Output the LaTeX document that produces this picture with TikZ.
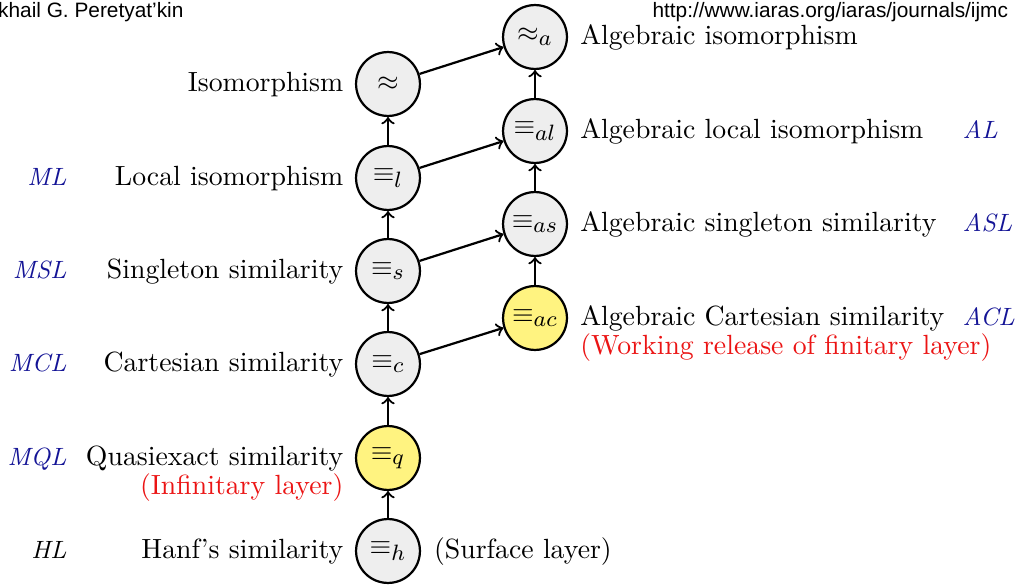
\documentclass[tikz,border=0pt]{standalone}
\usetikzlibrary{positioning}

\font\headfont="Liberation Sans" at 7.5pt
\DeclareMathSizes{10}{10}{8.5}{6}
\definecolor{layblue}{RGB}{20,20,150}
\definecolor{notered}{RGB}{235,20,20}
\definecolor{relgray}{RGB}{238,238,238}
\definecolor{relyellow}{RGB}{255,243,128}

\begin{document}
\begin{tikzpicture}[x=0.36pt, y=-0.36pt,
  every node/.style = {inner sep=0pt},
  rel/.style = {circle, draw, thick, fill=relgray,
    minimum size=23pt},
  relfin/.style = {rel, fill=relyellow},
  rname/.style = {text height=1.6ex, text depth=.3ex},
  lname/.style = {font=\small\itshape, text height=1.6ex, text depth=.3ex},
  layer/.style = {text=notered},
  arr/.style = {->, thick}]
  \useasboundingbox (0,0) rectangle (1019,587);
  \coordinate (lcol) at (67,0);
  \coordinate (rcol) at (962,0);
  % header
  \node [anchor=base east, font=\headfont] (auth) at (184,18) {khail G. Peretyat’kin};
  \node [anchor=base west, font=\headfont] (url) at (652,18) {http://www.iaras.org/iaras/journals/ijmc};
  % model relations
  \node [rel] (h) at (388,551) {$\equiv_h$};
  \node [relfin] (q) at (388,458) {$\equiv_q$};
  \node [rel] (c) at (388,364) {$\equiv_c$};
  \node [rel] (s) at (388,271) {$\equiv_s$};
  \node [rel] (l) at (388,178) {$\equiv_l$};
  \node [rel] (i) at (388,84) {$\approx$};
  % algebraic relations
  \node [relfin] (ac) at (535,318) {$\equiv_{ac}$};
  \node [rel] (as) at (535,224) {$\equiv_{as}$};
  \node [rel] (al) at (535,131) {$\equiv_{al}$};
  \node [rel] (a) at (535,37) {$\approx_a$};
  % names
  \node [rname, left=4pt of h] {Hanf’s similarity};
  \node [rname, right=4.5pt of h] {(Surface layer)};
  \node [rname, left=4pt of q] (qn) {Quasiexact similarity};
  \node [layer, anchor=north east] at ([yshift=-1.3pt]qn.south east) {(Infinitary layer)};
  \node [rname, left=4pt of c] {Cartesian similarity};
  \node [rname, left=4pt of s] {Singleton similarity};
  \node [rname, left=4pt of l] {Local isomorphism};
  \node [rname, left=4pt of i] {Isomorphism};
  \node [rname, right=4.2pt of ac] (acn) {Algebraic Cartesian similarity};
  \node [layer, anchor=north west] at ([yshift=-1.3pt]acn.south west) {(Working release of finitary layer)};
  \node [rname, right=4.2pt of as] {Algebraic singleton similarity};
  \node [rname, right=4.2pt of al] {Algebraic local isomorphism};
  \node [rname, right=4.2pt of a] {Algebraic isomorphism};
  % logics
  \node [lname, anchor=east] at (h -| lcol) {HL};
  \node [lname, text=layblue, anchor=east] at (q -| lcol) {MQL};
  \node [lname, text=layblue, anchor=east] at (c -| lcol) {MCL};
  \node [lname, text=layblue, anchor=east] at (s -| lcol) {MSL};
  \node [lname, text=layblue, anchor=east] at (l -| lcol) {ML};
  \node [lname, text=layblue, anchor=west] at (ac -| rcol) {ACL};
  \node [lname, text=layblue, anchor=west] at (as -| rcol) {ASL};
  \node [lname, text=layblue, anchor=west] at (al -| rcol) {AL};
  % arrows
  \draw [arr] (h) -- (q);
  \draw [arr] (q) -- (c);
  \draw [arr] (c) -- (s);
  \draw [arr] (s) -- (l);
  \draw [arr] (l) -- (i);
  \draw [arr] (ac) -- (as);
  \draw [arr] (as) -- (al);
  \draw [arr] (al) -- (a);
  \draw [arr] (c) -- (ac);
  \draw [arr] (s) -- (as);
  \draw [arr] (l) -- (al);
  \draw [arr] (i) -- (a);
\end{tikzpicture}
\end{document}
